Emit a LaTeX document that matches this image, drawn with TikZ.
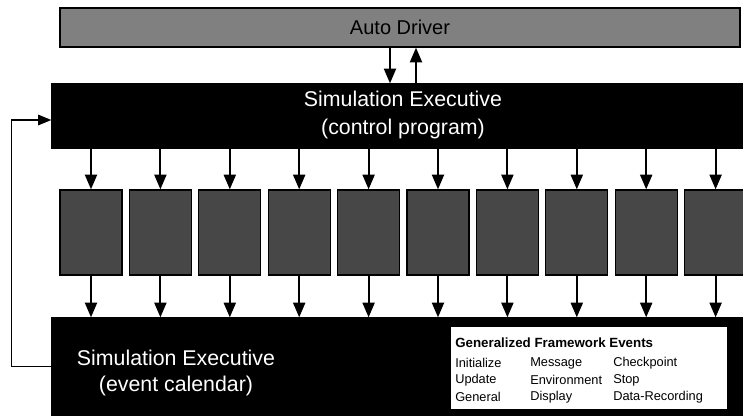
\documentclass[tikz,border=0pt]{standalone}
\usepackage{fontspec}
\setmainfont{Liberation Sans}
\usetikzlibrary{arrows.meta}

\begin{document}
\begin{tikzpicture}[x=0.75pt,y=0.75pt,yscale=-1,xscale=1,
	bar/.style={draw=black,line width=1pt,inner sep=0pt},
	modbox/.style={bar,fill=black!72,minimum width=46.5pt,minimum height=63.75pt},
	arr/.style={line width=1.5pt,-{Triangle[length=11pt,width=9pt]}},
	loopline/.style={line width=0.9pt,-{Triangle[length=10pt,width=8pt]}},
	bigtext/.style={text=white,font=\fontsize{16}{19}\selectfont,align=center},
	evtext/.style={anchor=west,inner sep=0.75pt,font=\fontsize{9.6}{11}\selectfont}]
	\useasboundingbox (0,0) rectangle (743,415);
	
	%Shape: Rectangle [Auto Driver]
	\node [bar,fill=black!50,minimum width=510pt,minimum height=29.25pt,font=\fontsize{15}{18}\selectfont] (driver) at (400,27.5) {Auto Driver};
	
	%Shape: Rectangle [control program]
	\node [bar,fill=black,minimum width=518.25pt,minimum height=48pt] (exec) at (397.5,116) {};
	\node [bigtext] (exectxt) at (403,115) {Simulation Executive\\[2pt](control program)};
	
	%Shape: Rectangle [event calendar]
	\node [bar,fill=black,minimum width=518.25pt,minimum height=72.75pt] (calendar) at (397.5,366.5) {};
	\node [bigtext] (caltxt) at (176,373) {Simulation Executive\\[1pt](event calendar)};
	
	%Shape: Rectangle [modules]
	\foreach \i in {0,...,9}
		\node [modbox] (m\i) at (91+69.4*\i,232.5) {};
	
	%Straight Lines [driver <-> executive]
	\draw [arr] ([xshift=-7.5pt]driver.south) -- ([xshift=-7.5pt]driver.south |- exec.north);
	\draw [arr] ([xshift=12pt]driver.south |- exec.north) -- ([xshift=12pt]driver.south);
	
	%Straight Lines [executive -> modules -> calendar]
	\foreach \i in {0,...,9} {
		\draw [arr] (m\i.north |- exec.south) -- (m\i.north);
		\draw [arr] (m\i.south) -- (m\i.south |- calendar.north);
	}
	
	%Straight Lines [feedback loop]
	\draw [loopline] (calendar.west) -- ++(-40,0) |- ([yshift=3pt]exec.west);
	
	%Shape: Rectangle [framework events]
	\node [draw=black,fill=white,minimum width=207.75pt,minimum height=62.25pt] (events) at (588.5,367.5) {};
	
	% Text Node
	\node [evtext,font=\bfseries\fontsize{10}{12}\selectfont] (evhead) at (454,343) {Generalized Framework Events};
	% Text Node
	\node [evtext] (init) at (454,363) {Initialize};
	\node [evtext] (upd) at (454,380) {Update};
	\node [evtext] (gen) at (454,397) {General};
	% Text Node
	\node [evtext] (msg) at (529,363) {Message};
	\node [evtext] (env) at (529,380) {Environment};
	\node [evtext] (disp) at (529,397) {Display};
	% Text Node
	\node [evtext] (chk) at (612,363) {Checkpoint};
	\node [evtext] (stp) at (612,380) {Stop};
	\node [evtext] (rec) at (612,397) {Data-Recording};
	
\end{tikzpicture}
\end{document}
